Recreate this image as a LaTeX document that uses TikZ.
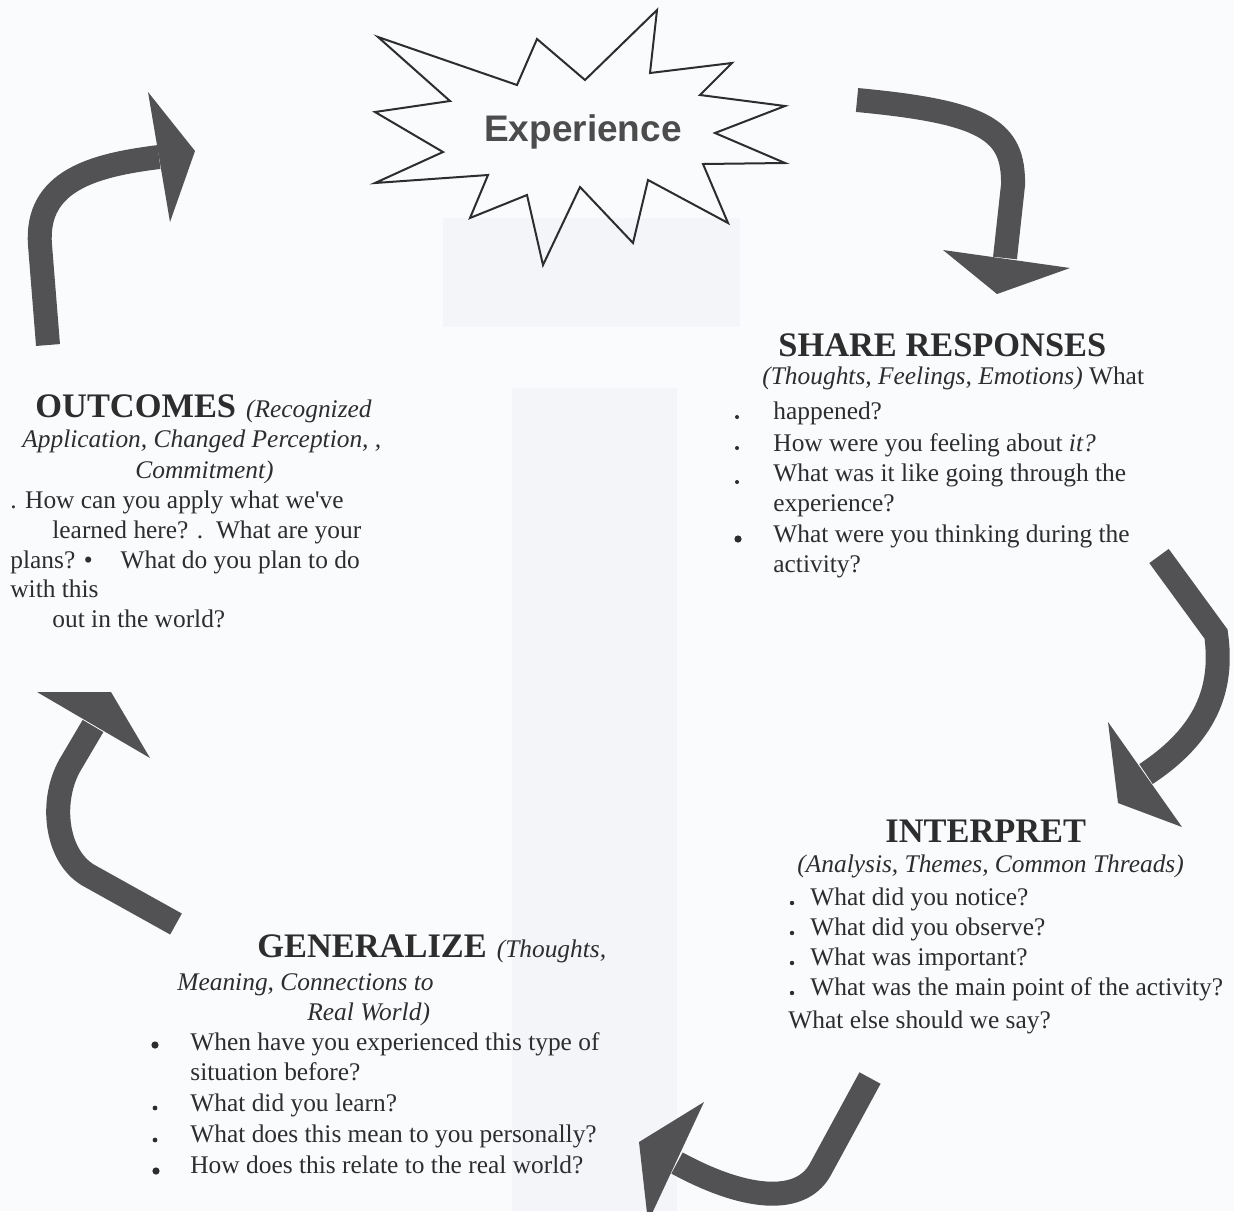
\documentclass[tikz,border=0pt]{standalone}
\usepackage{fontspec}
\setmainfont{Liberation Serif}
\newfontfamily\expfont{Liberation Sans}
\usepackage{tikz}
\definecolor{paper}{RGB}{250,251,253}
\definecolor{band}{RGB}{243,245,248}
\definecolor{ink}{RGB}{45,45,45}
\definecolor{arrowgray}{RGB}{82,82,84}
\newcommand{\askfont}{\fontsize{12.7}{15}\selectfont}
\newcommand{\stagefont}{\fontsize{17.2}{20}\selectfont\bfseries}
\newcommand{\notefont}{\fontsize{12.7}{15}\selectfont\mdseries\itshape}

\begin{document}
\begin{tikzpicture}[x=0.5pt, y=-0.5pt,
  every node/.style={anchor=base west, inner sep=0pt, text=ink, font=\askfont},
  shaft/.style={draw=arrowgray, line width=12pt},
  head/.style={fill=arrowgray}]
%paper and the faint band of the scan
\fill[paper] (0,0) rectangle (1234,1211);
\useasboundingbox (0,0) rectangle (1234,1211);
\fill[band] (443,218) rectangle (740,327);
\fill[band] (512,388) rectangle (677,1211);

%experience star
\draw[ink, line width=1pt] (378,37) -- (517,85) -- (537,39) -- (585,80) -- (657,10) -- (650,73)
  -- (732,63) -- (700,95) -- (785,106) -- (715,133) -- (785,163) -- (703,164) -- (728,223)
  -- (648,180) -- (633,243) -- (580,187) -- (543,265) -- (527,195) -- (470,218) -- (488,175)
  -- (375,183) -- (443,152) -- (375,112) -- (450,101) -- cycle;
\node[anchor=base, text=ink!85, font=\expfont\fontsize{18.5}{20}\selectfont\bfseries] (exp) at (583,141) {Experience};

%share responses
\node (sr1) at (778,356) {\stagefont SHARE RESPONSES};
\node (sr2) at (762,384) {\notefont (Thoughts, Feelings, Emotions) \upshape What};
\node (sr3) at (773,419) {happened?};
\node (sr4) at (773,451) {How were you feeling about \textit{it?}};
\node (sr5) at (773,481) {What was it like going through the};
\node (sr6) at (773,511) {experience?};
\node (sr7) at (773,542) {What were you thinking during the};
\node (sr8) at (773,572) {activity?};
\foreach \y in {417,448,482}{
	\fill[ink] (737,\y) circle (1pt);
}
\fill[ink] (738,539) circle (1.8pt);

%interpret
\node (ip1) at (885,842) {\stagefont INTERPRET};
\node (ip2) at (797,872) {\notefont (Analysis, Themes, Common Threads)};
\node (ip3) at (810,905) {What did you notice?};
\node (ip4) at (810,935) {What did you observe?};
\node (ip5) at (810,965) {What was important?};
\node (ip6) at (810,995) {What was the main point of the activity?};
\node (ip7) at (788,1028) {What else should we say?};
\foreach \y in {903,933,963,993}{
	\fill[ink] (792,\y) circle (1.1pt);
}

%generalize
\node (gz1) at (257,957) {\stagefont GENERALIZE\hspace{5pt}\notefont (Thoughts,};
\node (gz2) at (177,990) {\notefont Meaning, Connections to};
\node (gz3) at (307,1020) {\notefont Real World)};
\node (gz4) at (190,1050) {When have you experienced this type of};
\node (gz5) at (190,1080) {situation before?};
\node (gz6) at (190,1111) {What did you learn?};
\node (gz7) at (190,1142) {What does this mean to you personally?};
\node (gz8) at (190,1173) {How does this relate to the real world?};
\fill[ink] (155,1045) circle (1.8pt);
\foreach \y in {1108,1140}{
	\fill[ink] (155,\y) circle (1.2pt);
}
\fill[ink] (156,1171) circle (1.8pt);

%outcomes
\node (oc1) at (35,417) {\stagefont OUTCOMES\hspace{5pt}\notefont (Recognized};
\node (oc2) at (22,447) {\notefont Application, Changed Perception, ,};
\node (oc3) at (135,478) {\notefont Commitment)};
\node (oc4) at (10,508) {. How can you apply what we\textquotesingle ve};
\node (oc5) at (52,538) {learned here? .\ \ What are your};
\node (oc6) at (10,568) {plans? \textbullet\hspace{1.1em}What do you plan to do};
\node (oc7) at (10,597) {with this};
\node (oc8) at (52,627) {out in the world?};

%experience -> share
\coordinate (a1tail) at (857,100);
\coordinate (a1base) at (1005,258);
\coordinate (a1tip) at (997,294);
\draw[shaft] (a1tail) .. controls (985,112) and (1014,130) .. (1013,185) -- (a1base);
\fill[head] (943,250) -- (a1tip) -- (1070,268) -- cycle;

%share -> interpret
\coordinate (a2tail) at (1159,556);
\coordinate (a2base) at (1146,774);
\coordinate (a2tip) at (1118,803);
\draw[shaft] (a2tail) -- (1216,634) .. controls (1224,690) and (1205,735) .. (a2base);
\fill[head] (1108,722) -- (a2tip) -- (1182,827) -- cycle;

%interpret -> generalize
\coordinate (a3tail) at (870,1078);
\coordinate (a3base) at (677,1163);
\coordinate (a3tip) at (639,1142);
\draw[shaft] (a3tail) -- (820,1170) .. controls (800,1205) and (745,1200) .. (a3base);
\fill[head] (704,1102) -- (a3tip) -- (648,1222) -- cycle;

%generalize -> outcomes
\coordinate (a4tail) at (176,924);
\coordinate (a4base) at (93,726);
\coordinate (a4tip) at (111,692);
\draw[shaft] (a4tail) -- (88,875) .. controls (55,855) and (50,800) .. (70,765) -- (a4base);
\fill[head] (37,692) -- (a4tip) -- (150,758) -- cycle;

%outcomes -> experience
\coordinate (a5tail) at (48,345);
\coordinate (a5base) at (159,157);
\coordinate (a5tip) at (195,151);
\draw[shaft] (a5tail) -- (40,245) .. controls (35,180) and (95,165) .. (a5base);
\fill[head] (148,92) -- (a5tip) -- (170,222) -- cycle;
\end{tikzpicture}
\end{document}
